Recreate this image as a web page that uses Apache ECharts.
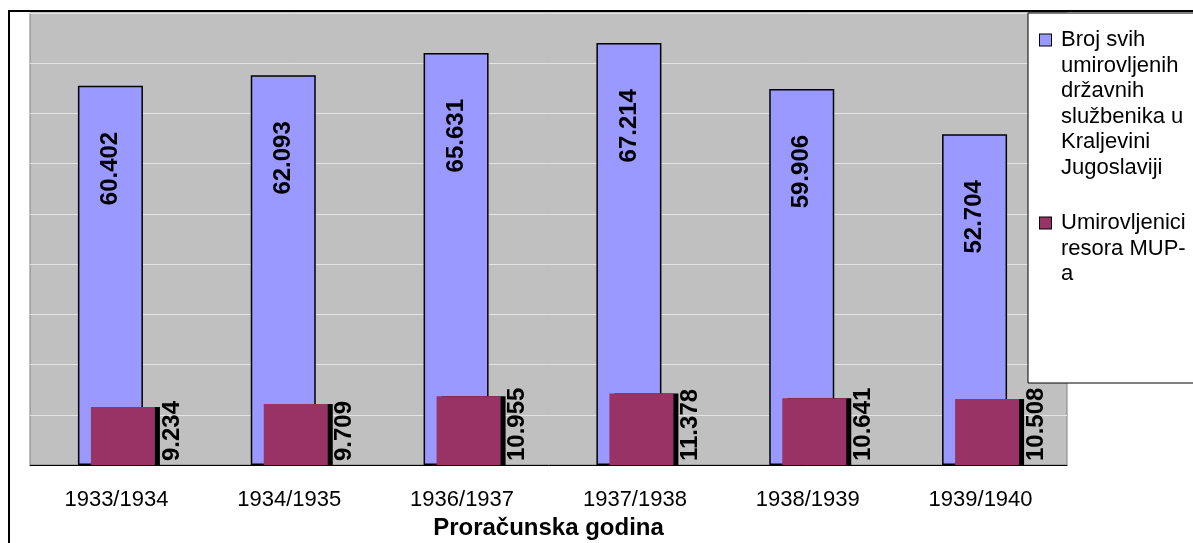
<!DOCTYPE html>
<html>
<head>
<meta charset="utf-8">
<script src="https://cdn.jsdelivr.net/npm/echarts@6/dist/echarts.min.js"></script>
<style>
html, body { margin: 0; padding: 0; background: #fff; }
#view { width: 1193px; height: 543px; }
</style>
</head>
<body>
<div id="view"></div>
<script>
var godine = ['1933/1934', '1934/1935', '1936/1937', '1937/1938', '1938/1939', '1939/1940'];
var sviUmirovljeni = [60402, 62093, 65631, 67214, 59906, 52704];
var umirovljeniMup = [9234, 9709, 10955, 11378, 10641, 10508];
var nazivi = ['Broj svih umirovljenih državnih službenika u Kraljevini Jugoslaviji', 'Umirovljenici resora MUP-a'];
var legendaRedovi = [
    ['Broj svih', 'umirovljenih', 'državnih', 'službenika u', 'Kraljevini', 'Jugoslaviji'],
    ['Umirovljenici', 'resora MUP-', 'a']
];
var yMax = 72000, yKorak = 8000;

var font = "'Liberation Sans', Arial, sans-serif";

// 60402 -> "60.402"
function tocka(v) {
    return String(v).replace(/\B(?=(\d{3})+(?!\d))/g, '.');
}

var myChart = echarts.init(document.getElementById('view'));

var option = {
    animation: false,
    textStyle: { fontFamily: font },
    grid: {
        left: 30, right: 126, top: 13, bottom: 78,
        outerBoundsMode: 'none',
        containLabel: false,
        show: true,
        backgroundColor: '#C0C0C0',
        borderColor: '#808080',
        borderWidth: 1
    },
    graphic: [
        {
            type: 'rect', z: 0,
            shape: { x: 9, y: 11, width: 1300, height: 600 },
            style: { fill: 'none', stroke: '#000', lineWidth: 2 }
        },
        {
            type: 'rect', z: 10,
            shape: { x: 1028, y: 13, width: 200, height: 370 },
            style: { fill: '#fff', stroke: '#000', lineWidth: 1 }
        }
    ],
    legend: {
        z: 20,
        orient: 'vertical',
        left: 1035,
        top: 29,
        padding: 0,
        icon: 'none',
        itemWidth: 0,
        itemHeight: 10,
        itemGap: 33,
        selectedMode: false,
        data: nazivi,
        formatter: function (name) {
            var i = nazivi.indexOf(name);
            var redovi = legendaRedovi[i];
            var s = '';
            for (var k = 0; k < redovi.length; k++) {
                if (k == 0) s += '{b' + i + '| }{g| }';
                else s += '\n{sp| }';
                s += '{t|' + redovi[k] + '}';
            }
            return s;
        },
        textStyle: {
            rich: {
                b0: { width: 11, height: 11, backgroundColor: '#9999FF', borderColor: '#000', borderWidth: 1, lineHeight: 25.6 },
                b1: { width: 11, height: 11, backgroundColor: '#993366', borderColor: '#000', borderWidth: 1, lineHeight: 25.6 },
                g: { width: 10, lineHeight: 25.6 },
                sp: { width: 21, lineHeight: 25.6 },
                t: { fontSize: 22, lineHeight: 25.6, color: '#000', fontFamily: font }
            }
        }
    },
    xAxis: {
        type: 'category',
        data: godine,
        name: 'Proračunska godina',
        nameLocation: 'middle',
        nameGap: 48,
        nameTextStyle: { fontSize: 24, fontWeight: 'bold', color: '#000', fontFamily: font },
        axisLine: { lineStyle: { color: '#000', width: 1 } },
        axisTick: { length: 6, lineStyle: { color: '#000' } },
        axisLabel: { fontSize: 22, color: '#000', margin: 24, fontFamily: font }
    },
    yAxis: {
        type: 'value',
        min: 0,
        max: yMax,
        interval: yKorak,
        axisLine: { show: false },
        axisTick: { show: false },
        axisLabel: { show: false },
        splitLine: { lineStyle: { color: '#E4E4E4', width: 1 } }
    },
    series: [
        {
            name: nazivi[0],
            type: 'bar',
            data: sviUmirovljeni,
            barWidth: 65,
            barGap: '-80%',
            itemStyle: { color: '#9999FF', borderColor: '#000', borderWidth: 1.5 },
            label: {
                show: true,
                position: 'insideTop',
                distance: 46,
                rotate: 90,
                align: 'right',
                verticalAlign: 'middle',
                fontSize: 24,
                fontWeight: 'bold',
                color: '#000',
                fontFamily: font,
                formatter: function (p) { return tocka(p.value); }
            }
        },
        {
            name: nazivi[1],
            type: 'bar',
            data: umirovljeniMup,
            barWidth: 64,
            itemStyle: {
                color: '#993366', borderWidth: 0,
                shadowColor: '#000', shadowOffsetX: 5, shadowOffsetY: 0, shadowBlur: 0
            },
            label: {
                show: true,
                position: ['100%', '100%'],
                rotate: 90,
                align: 'left',
                verticalAlign: 'middle',
                offset: [4, 17],
                fontSize: 24,
                fontWeight: 'bold',
                color: '#000',
                fontFamily: font,
                formatter: function (p) { return tocka(p.value); }
            }
        }
    ]
};

myChart.setOption(option);
</script>
</body>
</html>
